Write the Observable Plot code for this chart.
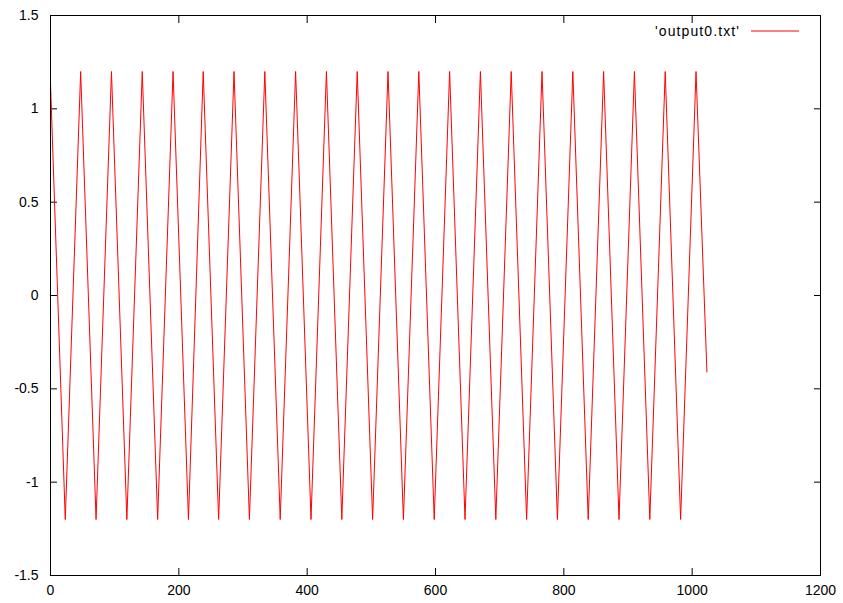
<!DOCTYPE html>
<html>
<head>
<meta charset="utf-8">
<script src="https://cdn.jsdelivr.net/npm/d3@7"></script>
<script src="https://cdn.jsdelivr.net/npm/@observablehq/plot@0.6"></script>
<style>
  html, body { margin: 0; padding: 0; background: #fff; }
  #chart svg { display: block; }
</style>
</head>
<body>
<div id="chart"></div>
<script>
// Vertices of the 'output0.txt' series (x = sample index, y = value)
const xs = [0, 23, 47, 71, 95, 119, 143, 167, 191, 215, 238, 262, 286, 310, 334, 358, 382, 406, 430, 454, 478, 502, 526, 550, 574, 598, 622, 646, 670, 694, 718, 742, 766, 790, 814, 838, 862, 886, 910, 934, 958, 982, 1006, 1023];
const ys = [1.14, -1.2, 1.2, -1.2, 1.2, -1.2, 1.2, -1.2, 1.2, -1.2, 1.2, -1.2, 1.2, -1.2, 1.2, -1.2, 1.2, -1.2, 1.2, -1.2, 1.2, -1.2, 1.2, -1.2, 1.2, -1.2, 1.2, -1.2, 1.2, -1.2, 1.2, -1.2, 1.2, -1.2, 1.2, -1.2, 1.2, -1.2, 1.2, -1.2, 1.2, -1.2, 1.2, -0.41];
const xTicks = [0, 200, 400, 600, 800, 1000, 1200];
const yTicks = [-1.5, -1, -0.5, 0, 0.5, 1, 1.5];
const seriesName = "'output0.txt'";

const data = xs.map((x, i) => ({x, y: ys[i]}));
const fmt = d => String(d);
const font = "Liberation Sans, Arial, sans-serif";

const legend = (index, scales, values, dims) => {
  const g = d3.create("svg:g");
  const right = dims.width - dims.marginRight;
  const top = dims.marginTop;
  g.append("text")
    .attr("x", right - 80).attr("y", top + 16)
    .attr("text-anchor", "end").attr("dominant-baseline", "central")
    .attr("font-family", font).attr("font-size", 14).attr("letter-spacing", "1.1px")
    .attr("fill", "black")
    .text(seriesName);
  g.append("line")
    .attr("x1", right - 69).attr("x2", right - 21)
    .attr("y1", top + 16).attr("y2", top + 16)
    .attr("stroke", "red").attr("stroke-width", 1);
  return g.node();
};

const chart = Plot.plot({
  width: 843,
  height: 603,
  marginLeft: 50,
  marginRight: 23,
  marginTop: 15,
  marginBottom: 28,
  style: {fontFamily: font, fontSize: "14px", background: "white", color: "black"},
  x: {domain: [0, 1200]},
  y: {domain: [-1.5, 1.5]},
  marks: [
    Plot.axisX(xTicks, {anchor: "bottom", tickSize: 0, tickPadding: 10, tickFormat: fmt, label: null, fontSize: 14}),
    Plot.axisX(xTicks, {anchor: "bottom", tickSize: -7, text: null, label: null}),
    Plot.axisX(xTicks, {anchor: "top", tickSize: -7, text: null, label: null}),
    Plot.axisY(yTicks, {anchor: "left", tickSize: 0, tickPadding: 12, tickFormat: fmt, label: null, fontSize: 14}),
    Plot.axisY(yTicks, {anchor: "left", tickSize: -7, text: null, label: null}),
    Plot.axisY(yTicks, {anchor: "right", tickSize: -7, text: null, label: null}),
    Plot.line(data, {x: "x", y: "y", stroke: "red", strokeWidth: 1}),
    Plot.frame({stroke: "black"}),
    legend
  ]
});
document.getElementById("chart").appendChild(chart);
</script>
</body>
</html>
